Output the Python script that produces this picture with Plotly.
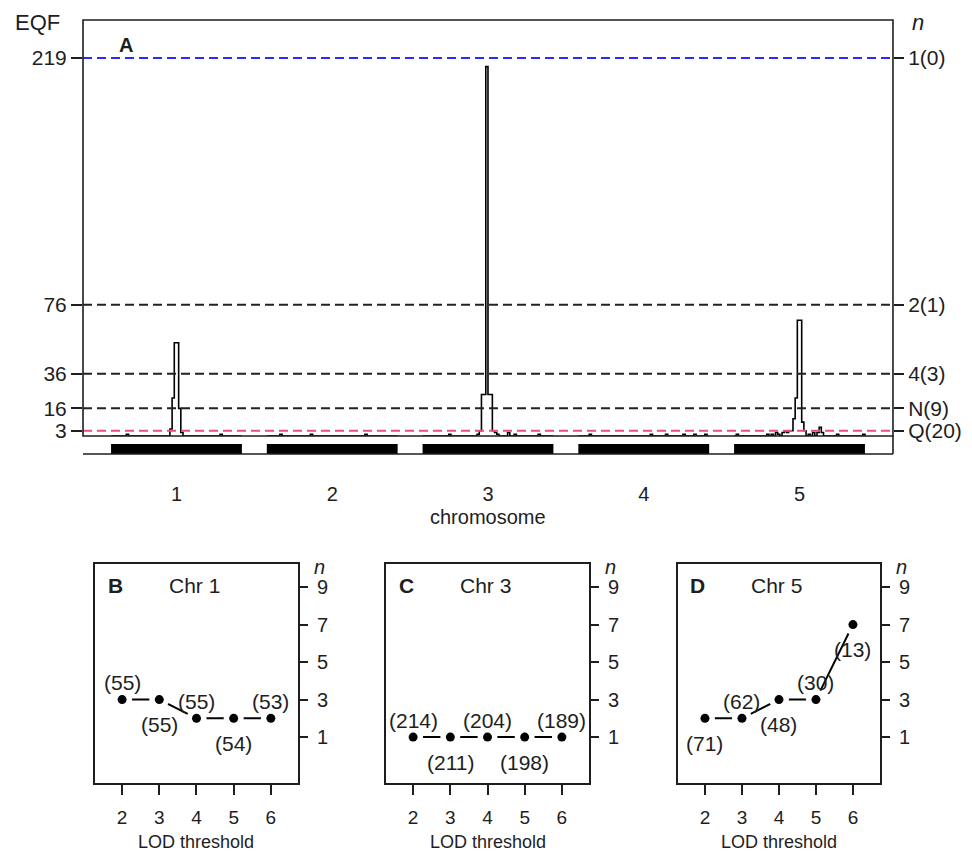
import plotly.graph_objects as go

# ---------------- data ----------------
chromosomes = [1, 2, 3, 4, 5]
chrom_labels = ["1", "2", "3", "4", "5"]
chrom_start = [0.58, 1.58, 2.58, 3.58, 4.58]
chrom_end = [1.42, 2.42, 3.42, 4.42, 5.42]
n_bins = 60

# non-zero EQF bins along each chromosome (bin index, EQF value)
chr1_bins = [7, 27, 28, 29, 30, 31, 32, 50]
chr1_eqf = [1, 4, 22, 54, 54, 16, 2, 1]
chr2_bins = [6, 20, 45]
chr2_eqf = [1, 1, 1]
chr3_bins = [12, 25, 26, 27, 28, 29, 30, 31, 32, 33, 34, 39, 42, 53]
chr3_eqf = [1, 1, 3, 24, 24, 214, 24, 24, 3, 2, 1, 2, 1, 1]
chr4_bins = [5, 33, 40, 48, 53, 58]
chr4_eqf = [1, 1, 1, 1, 1, 1]
chr5_bins = [1, 15, 17, 19, 20, 22, 23, 24, 25, 26, 27, 28, 29, 30, 31, 32, 34, 36, 38, 39, 40, 47, 59]
chr5_eqf = [1, 1, 1, 2, 1, 2, 3, 2, 3, 3, 10, 22, 67, 67, 8, 3, 1, 2, 2, 5, 2, 1, 1]

thr_vals = [219, 76, 36, 16, 3]
thr_right_labels = ["1(0)", "2(1)", "4(3)", "N(9)", "Q(20)"]
thr_colors = ["#2b2bff", "#222222", "#222222", "#222222", "#e8527a"]

lod = [2, 3, 4, 5, 6]
chr1_n = [3, 3, 2, 2, 2]
chr1_cnt = [55, 55, 55, 54, 53]
chr3_n = [1, 1, 1, 1, 1]
chr3_cnt = [214, 211, 204, 198, 189]
chr5_n = [2, 2, 3, 3, 7]
chr5_cnt = [71, 62, 48, 30, 13]
label_side_bc = ["above", "below", "above", "below", "above"]
label_side_d = ["below", "above", "below", "above", "below"]
n_ticks = [1, 3, 5, 7, 9]

# ---------------- style ----------------
FONT = "Liberation Sans, Arial, sans-serif"
INK = "#1e1e1e"
fig = go.Figure()

# ---- panel A: EQF step profiles ----
all_bins = [chr1_bins, chr2_bins, chr3_bins, chr4_bins, chr5_bins]
all_eqf = [chr1_eqf, chr2_eqf, chr3_eqf, chr4_eqf, chr5_eqf]
for k in range(5):
    w = (chrom_end[k] - chrom_start[k]) / n_bins
    vals = [0] * n_bins
    for b, v in zip(all_bins[k], all_eqf[k]):
        vals[b] = v
    xs = [chrom_start[k] + i * w for i in range(n_bins + 1)]
    ys = vals + [0]
    fig.add_trace(go.Scatter(x=xs, y=ys, mode="lines", line=dict(color="black", width=1.6, shape="hv"),
                             hoverinfo="skip", showlegend=False, xaxis="x", yaxis="y"))
# invisible trace for right axis
fig.add_trace(go.Scatter(x=[chromosomes[0]], y=[thr_vals[0]], mode="markers", marker=dict(opacity=0),
                         hoverinfo="skip", showlegend=False, xaxis="x", yaxis="y2"))

shapes = []
for v, c in zip(thr_vals, thr_colors):
    shapes.append(dict(type="line", xref="x domain", yref="y", x0=0, x1=1, y0=v, y1=v,
                       line=dict(color=c, width=2, dash="9px,5px"), layer="above"))
# chromosome bars below panel A
for s, e in zip(chrom_start, chrom_end):
    shapes.append(dict(type="rect", xref="x", yref="y domain", x0=s, x1=e, y0=-0.0433, y1=-0.0192,
                       line=dict(width=0), fillcolor="black"))
# frame of panel A
shapes.append(dict(type="rect", xref="x domain", yref="y domain", x0=0, x1=1, y0=0, y1=1,
                   line=dict(color=INK, width=1.6)))
shapes.append(dict(type="line", xref="x domain", yref="y domain", x0=1, x1=1, y0=0, y1=-0.0433,
                   line=dict(color=INK, width=1.6)))
shapes.append(dict(type="line", xref="x domain", yref="y domain", x0=0, x1=1, y0=-0.0433, y1=-0.0433,
                   line=dict(color=INK, width=1.6)))

# ---- panels B, C, D ----
panels = [("x2", "y3", chr1_n, chr1_cnt, label_side_bc, "B", "Chr 1"),
          ("x3", "y4", chr3_n, chr3_cnt, label_side_bc, "C", "Chr 3"),
          ("x4", "y5", chr5_n, chr5_cnt, label_side_d, "D", "Chr 5")]
annotations = []
for xa, ya, ns, cnts, sides, letter, title in panels:
    fig.add_trace(go.Scatter(x=lod, y=ns, mode="lines", line=dict(color="black", width=2),
                             hoverinfo="skip", showlegend=False, xaxis=xa, yaxis=ya))
    fig.add_trace(go.Scatter(x=lod, y=ns, mode="markers", marker=dict(color="white", size=20),
                             hoverinfo="skip", showlegend=False, xaxis=xa, yaxis=ya))
    fig.add_trace(go.Scatter(x=lod, y=ns, mode="markers", marker=dict(color="black", size=9),
                             hoverinfo="skip", showlegend=False, xaxis=xa, yaxis=ya))
    for xv, yv, c, sd in zip(lod, ns, cnts, sides):
        annotations.append(dict(x=xv, y=yv, xref=xa, yref=ya, text=f"({c})", showarrow=False,
                                xanchor="center", yanchor="middle",
                                yshift=17 if sd == "above" else -25,
                                font=dict(size=21, color=INK, family=FONT)))
    xd = xa + " domain"
    yd = ya + " domain"
    annotations.append(dict(x=0.099, y=0.904, xref=xd, yref=yd, text=f"<b>{letter}</b>", showarrow=False,
                            xanchor="center", yanchor="middle", font=dict(size=21, color=INK, family=FONT)))
    annotations.append(dict(x=0.49, y=0.904, xref=xd, yref=yd, text=title, showarrow=False,
                            xanchor="center", yanchor="middle", font=dict(size=21, color=INK, family=FONT)))
    annotations.append(dict(x=1.105, y=0.985, xref=xd, yref=yd, text="<i>n</i>", showarrow=False,
                            xanchor="center", yanchor="middle", font=dict(size=20, color=INK, family=FONT)))
    annotations.append(dict(x=0.5, y=-0.27, xref=xd, yref=yd, text="LOD threshold", showarrow=False,
                            xanchor="center", yanchor="middle", font=dict(size=18, color=INK, family=FONT)))

annotations.append(dict(x=37 / 972, y=1 - 22 / 854, xref="paper", yref="paper", text="EQF", showarrow=False,
                        xanchor="center", yanchor="middle", font=dict(size=22, color=INK, family=FONT)))
annotations.append(dict(x=126 / 972, y=1 - 45 / 854, xref="paper", yref="paper", text="<b>A</b>",
                        showarrow=False, xanchor="center", yanchor="middle",
                        font=dict(size=20, color=INK, family=FONT)))
annotations.append(dict(x=918 / 972, y=1 - 22 / 854, xref="paper", yref="paper", text="<i>n</i>",
                        showarrow=False, xanchor="center", yanchor="middle",
                        font=dict(size=22, color=INK, family=FONT)))
annotations.append(dict(x=0.5, y=-0.195, xref="x domain", yref="y domain", text="chromosome",
                        showarrow=False, xanchor="center", yanchor="middle",
                        font=dict(size=20, color=INK, family=FONT)))


def small_x(domain, anchor):
    return dict(domain=domain, anchor=anchor, range=[1.27, 6.73], tickvals=lod, ticks="outside", ticklen=10,
                tickwidth=2, tickcolor=INK, showline=True, mirror=True, linecolor=INK, linewidth=2,
                showgrid=False, zeroline=False, automargin=False, ticklabelstandoff=6,
                tickfont=dict(size=19, color=INK, family=FONT))


def small_y(anchor):
    return dict(domain=[0.0831, 0.3396], anchor=anchor, side="right", range=[-1.45, 10.23], tickvals=n_ticks,
                ticks="outside", ticklen=8, tickwidth=2, tickcolor=INK, showline=True, mirror=True,
                linecolor=INK, linewidth=2, showgrid=False, zeroline=False, automargin=False,
                ticklabelstandoff=5, tickfont=dict(size=20, color=INK, family=FONT))


fig.update_layout(
    width=972, height=854, margin=dict(l=0, r=0, t=0, b=0),
    paper_bgcolor="white", plot_bgcolor="white", showlegend=False,
    font=dict(family=FONT, color=INK),
    xaxis=dict(domain=[0.0854, 0.9187], anchor="y", range=[0.4, 5.6], tickvals=chromosomes, ticktext=chrom_labels,
               ticks="outside", ticklen=40, tickcolor="rgba(0,0,0,0)", showline=False, showgrid=False,
               zeroline=False, automargin=False, tickfont=dict(size=20, color=INK, family=FONT)),
    yaxis=dict(domain=[0.4895, 0.9766], anchor="x", range=[0, 241], tickvals=thr_vals, ticks="outside",
               ticklen=11, tickwidth=1.6, tickcolor=INK, showline=False, showgrid=False, zeroline=False,
               automargin=False, tickfont=dict(size=21, color=INK, family=FONT)),
    yaxis2=dict(overlaying="y", anchor="x", side="right", range=[0, 241], tickvals=thr_vals,
                ticktext=thr_right_labels, ticks="outside", ticklen=10, tickwidth=1.6, tickcolor=INK,
                showline=False, showgrid=False, zeroline=False, automargin=False,
                tickfont=dict(size=21, color=INK, family=FONT)),
    xaxis2=small_x([0.0977, 0.3066], "y3"),
    yaxis3=small_y("x2"),
    xaxis3=small_x([0.3971, 0.6060], "y4"),
    yaxis4=small_y("x3"),
    xaxis4=small_x([0.6975, 0.9053], "y5"),
    yaxis5=small_y("x4"),
    shapes=shapes, annotations=annotations,
)

fig.write_html("out.html")
